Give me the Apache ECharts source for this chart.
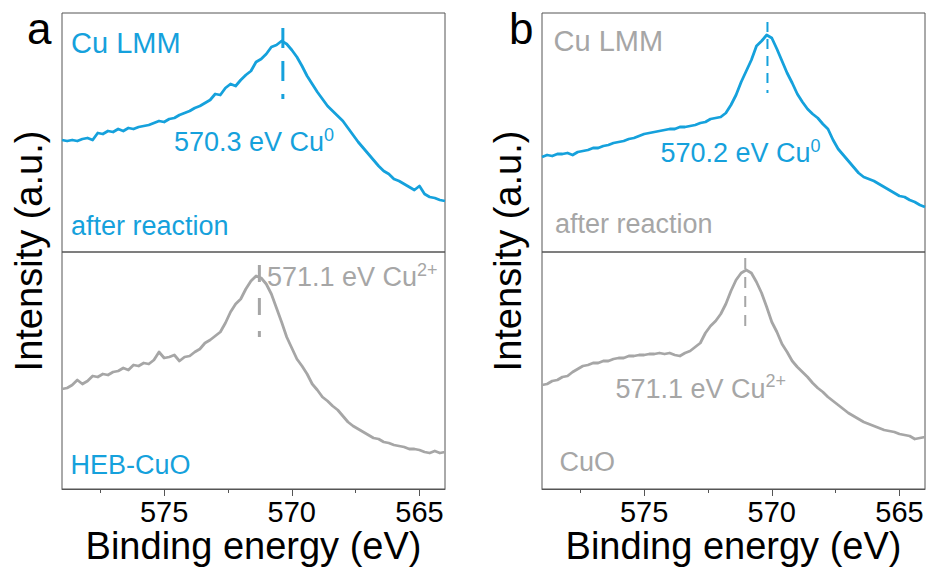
<!DOCTYPE html>
<html><head><meta charset="utf-8">
<script src="https://cdn.jsdelivr.net/npm/echarts@6/dist/echarts.min.js"></script>
<style>html,body{margin:0;padding:0;background:#fff}#c{width:929px;height:570px}</style>
</head><body><div id="c"></div>
<script>
// Binding energy (eV), 579 -> 564 in 0.2 eV steps
const energy = [579.0,578.8,578.6,578.4,578.2,578.0,577.8,577.6,577.4,577.2,
577.0,576.8,576.6,576.4,576.2,576.0,575.8,575.6,575.4,575.2,
575.0,574.8,574.6,574.4,574.2,574.0,573.8,573.6,573.4,573.2,
573.0,572.8,572.6,572.4,572.2,572.0,571.8,571.6,571.4,571.2,
571.0,570.8,570.6,570.4,570.2,570.0,569.8,569.6,569.4,569.2,
569.0,568.8,568.6,568.4,568.2,568.0,567.8,567.6,567.4,567.2,
567.0,566.8,566.6,566.4,566.2,566.0,565.8,565.6,565.4,565.2,
565.0,564.8,564.6,564.4,564.2,564.0];
// Panel a, top: after reaction (blue)
const afterReactionA = [112,111,112,111,113,114,112,119,118,121,
120,123,121,124,123,125,126,127,129,131,
130,133,134,137,139,141,144,146,149,152,
158,157,164,168,166,172,177,181,190,193,
198,205,207,211,208,202,195,186,176,168,
160,153,146,141,136,131,124,117,110,104,
98,92,86,81,78,73,71,68,65,62,
66,58,55,54,52,51];
// Panel a, bottom: HEB-CuO (gray)
const hebCuO = [100,101,104,109,105,108,113,112,115,114,
117,118,121,119,124,123,126,125,129,137,
131,132,134,128,132,133,137,140,146,149,
153,157,166,177,185,190,200,208,213,211,
205,195,181,167,152,141,130,123,115,105,
99,92,88,83,79,73,67,63,60,57,
54,51,50,47,46,44,43,42,40,40,
39,37,36,38,36,37];
// Panel b, top: after reaction (blue)
const afterReactionB = [95,97,96,98,98,99,97,100,101,102,
104,104,106,107,109,110,111,113,114,116,
118,119,120,121,122,123,123,125,125,126,
127,129,130,133,134,135,139,147,157,170,
181,192,206,211,217,214,203,191,179,169,
158,150,143,138,134,128,123,112,103,97,
91,85,79,75,73,71,68,65,62,59,
56,55,52,50,47,45];
// Panel b, bottom: CuO (gray)
const cuO = [104,105,108,109,112,113,117,120,123,124,
126,126,128,128,130,131,131,133,133,134,
134,135,135,136,135,136,134,133,136,138,
142,146,156,163,168,175,185,198,209,216,
219,216,207,196,182,167,157,145,137,128,
122,117,112,106,101,97,92,88,84,80,
76,73,70,67,65,63,61,59,58,57,
55,54,53,50,51,52];
// Peak marker energies and their vertical extents (intensity units)
const peakEnergy = [570.35, 571.27, 570.17, 571.04];
const peakTop = [224, 224, 230, 231];
const peakBottom = [153, 152, 159, 159];
const xTicks = [575, 570, 565];
const xMinorTicks = [577.5, 572.5, 567.5];
const panelLetters = ['a', 'b'];

const BLUE = '#15a1dc';
const GRAY = '#a6a6a6';
const FRAME = '#555555';
const FONT = '"Liberation Sans", Arial, sans-serif';

const chart = echarts.init(document.getElementById('c'), null, {renderer: 'svg', width: 929, height: 570});

const grids = [
  {left: 62, top: 13, width: 383, height: 239},
  {left: 62, top: 252, width: 383, height: 237},
  {left: 542, top: 13, width: 383, height: 239},
  {left: 542, top: 252, width: 383, height: 237}
];
const yMax = [239, 237, 239, 237];

function zip(xs, ys) { return xs.map((x, i) => [x, ys[i]]); }

const xAxes = [];
const yAxes = [];
grids.forEach((g, i) => {
  const isBottom = (i % 2) === 1;
  xAxes.push({
    type: 'value', gridIndex: i, min: 564, max: 579, inverse: true,
    show: isBottom,
    axisLine: {show: true, onZero: false, lineStyle: {color: FRAME, width: 1}},
    axisTick: {show: true, inside: false, length: 7, customValues: xTicks, lineStyle: {color: FRAME, width: 1}},
    axisLabel: {show: true, customValues: xTicks, margin: 11, fontSize: 29, lineHeight: 24, color: '#000', fontFamily: FONT},
    splitLine: {show: false}
  });
  yAxes.push({type: 'value', gridIndex: i, min: 0, max: yMax[i], show: false});
});
// minor ticks on bottom grids
[1, 3].forEach(gi => {
  xAxes.push({
    type: 'value', gridIndex: gi, min: 564, max: 579, inverse: true, position: 'bottom',
    axisLine: {show: false},
    axisTick: {show: true, inside: false, length: 4, customValues: xMinorTicks, lineStyle: {color: FRAME, width: 1}},
    axisLabel: {show: false},
    splitLine: {show: false}
  });
});

const curves = [
  {data: afterReactionA, color: BLUE, idx: 0},
  {data: hebCuO, color: GRAY, idx: 1},
  {data: afterReactionB, color: BLUE, idx: 2},
  {data: cuO, color: GRAY, idx: 3}
];
const dashes = [
  {w: 3, type: [20, 13]},
  {w: 3, type: [17, 16]},
  {w: 2, type: [10, 7]},
  {w: 2, type: [11, 8]}
];
const series = [];
curves.forEach(c => {
  series.push({
    type: 'line', xAxisIndex: c.idx, yAxisIndex: c.idx,
    data: zip(energy, c.data), showSymbol: false, symbol: 'none',
    lineStyle: {color: c.color, width: 2.8, join: 'round'},
    silent: true, animation: false, z: 3
  });
  series.push({
    type: 'line', xAxisIndex: c.idx, yAxisIndex: c.idx,
    data: [[peakEnergy[c.idx], peakTop[c.idx]], [peakEnergy[c.idx], peakBottom[c.idx]]],
    showSymbol: false, symbol: 'none',
    lineStyle: {color: c.color, width: dashes[c.idx].w, type: dashes[c.idx].type, cap: 'butt'},
    silent: true, animation: false, z: 4
  });
});

function label(x, y, text, color, size) {
  return {type: 'text', x: x, y: y, silent: true, z: 10,
    style: {text: text, fill: color, font: size + 'px ' + FONT, align: 'left', verticalAlign: 'middle', lineHeight: size}};
}
function supLabel(x, y, main, sup, color) {
  return {type: 'text', x: x, y: y, silent: true, z: 10,
    style: {text: '{m|' + main + '}{s|' + sup + '}', fill: color, align: 'left', verticalAlign: 'middle',
      rich: {
        m: {fontSize: 27, fontFamily: FONT, lineHeight: 30, verticalAlign: 'bottom', fill: color},
        s: {fontSize: 18, fontFamily: FONT, lineHeight: 20, verticalAlign: 'top', fill: color}
      }}};
}
function title(x, y, text, rot) {
  const t = {type: 'text', x: x, y: y, silent: true,
    style: {text: text, fill: '#000', font: '38px ' + FONT, align: 'center', verticalAlign: 'middle', lineHeight: 30}};
  if (rot) t.rotation = Math.PI / 2;
  return t;
}

const graphics = [
  {type: 'text', x: 27, y: 28.5, silent: true, style: {text: panelLetters[0], fill: '#000', font: '44px ' + FONT, align: 'left', verticalAlign: 'middle', lineHeight: 34}},
  {type: 'text', x: 509, y: 28.5, silent: true, style: {text: panelLetters[1], fill: '#000', font: '44px ' + FONT, align: 'left', verticalAlign: 'middle', lineHeight: 34}},
  label(71, 42.5, 'Cu LMM', BLUE, 29),
  label(71, 225.5, 'after reaction', BLUE, 27),
  label(70.5, 465, 'HEB-CuO', BLUE, 27),
  supLabel(174, 140.5, '570.3 eV Cu', '0', BLUE),
  supLabel(267, 275.5, '571.1 eV Cu', '2+', GRAY),
  label(553.5, 40.5, 'Cu LMM', GRAY, 29),
  label(555, 224, 'after reaction', GRAY, 27),
  label(559.5, 462, 'CuO', GRAY, 27),
  supLabel(660.5, 151.5, '570.2 eV Cu', '0', BLUE),
  supLabel(615.5, 387, '571.1 eV Cu', '2+', GRAY),
  title(253.5, 546, 'Binding energy (eV)', false),
  title(733.5, 546, 'Binding energy (eV)', false),
  title(29, 251, 'Intensity (a.u.)', true),
  title(508, 251, 'Intensity (a.u.)', true)
];

chart.setOption({
  animation: false,
  backgroundColor: '#fff',
  grid: grids.map(g => Object.assign({show: true, borderColor: FRAME, borderWidth: 1, backgroundColor: 'transparent', containLabel: false}, g)),
  xAxis: xAxes,
  yAxis: yAxes,
  series: series,
  graphic: graphics
});
</script>
</body></html>
